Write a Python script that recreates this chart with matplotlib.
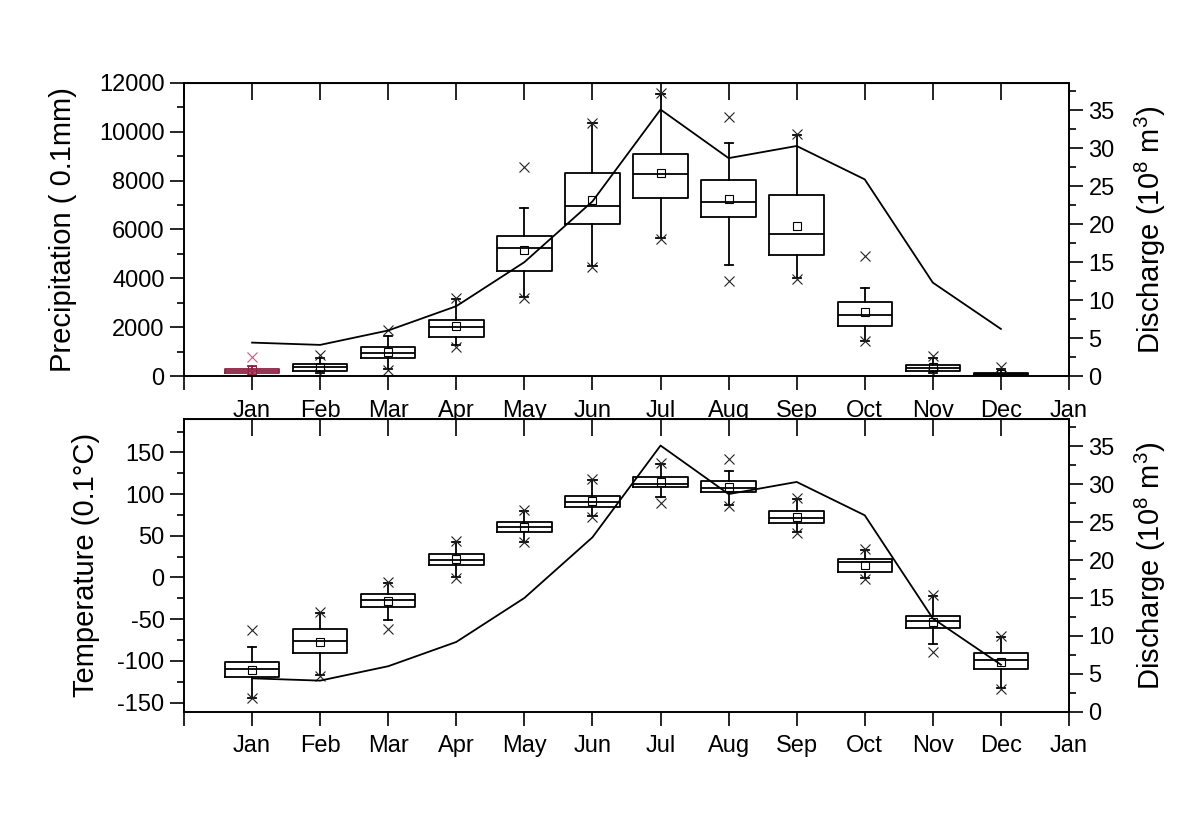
import matplotlib
matplotlib.use('Agg')
import matplotlib.pyplot as plt
from matplotlib.ticker import MultipleLocator

plt.rcParams['font.family'] = ['Liberation Sans', 'DejaVu Sans']
plt.rcParams['mathtext.fontset'] = 'custom'
plt.rcParams['mathtext.rm'] = 'Liberation Sans'
plt.rcParams['mathtext.it'] = 'Liberation Sans:italic'
plt.rcParams['axes.unicode_minus'] = False

months = ['Jan', 'Feb', 'Mar', 'Apr', 'May', 'Jun', 'Jul', 'Aug', 'Sep', 'Oct', 'Nov', 'Dec', 'Jan']

# monthly discharge (10^8 m^3)
discharge = [4.4, 4.1, 6.0, 9.2, 15.0, 23.0, 35.1, 28.7, 30.3, 25.9, 12.3, 6.2]

# precipitation (0.1mm): 1%, whisker low, q1, median, q3, whisker high, 99%, mean
prec_p1 = [40, 80, 250, 1200, 3200, 4480, 5610, 3900, 3960, 1430, 90, 10]
prec_wlo = [50, 110, 300, 1250, 3250, 4500, 5650, 4530, 4000, 1450, 110, 20]
prec_q1 = [110, 220, 750, 1610, 4300, 6220, 7300, 6510, 4970, 2035, 205, 40]
prec_med = [190, 350, 960, 2000, 5230, 6950, 8260, 7140, 5830, 2490, 320, 90]
prec_q3 = [270, 480, 1200, 2300, 5750, 8300, 9100, 8010, 7400, 3040, 437, 140]
prec_whi = [430, 720, 1650, 3150, 6870, 10350, 11550, 9560, 9880, 3600, 720, 300]
prec_p99 = [770, 850, 1880, 3180, 8550, 10370, 11600, 10620, 9910, 4930, 830, 380]
prec_mean = [250, 380, 1000, 2050, 5150, 7200, 8300, 7250, 6150, 2610, 355, 100]

# temperature (0.1 C)
temp_p1 = [-145, -118, -62, -1, 42, 73, 89, 86, 53, -2, -89, -134]
temp_wlo = [-144, -117, -51, 0, 43, 74, 97, 87, 54, -1, -80, -133]
temp_q1 = [-119, -91, -35, 15, 54, 85, 108, 102, 65, 7, -61, -110]
temp_med = [-110, -76, -27.5, 21, 61, 90, 112, 107, 71.5, 18, -52, -99.5]
temp_q3 = [-101, -62, -20, 28, 66, 98, 120, 115.5, 80, 22, -46, -90]
temp_whi = [-83, -43, -7, 42, 80, 117, 136, 128, 94, 33, -22, -71]
temp_p99 = [-63, -42, -6, 43.5, 81, 117.5, 137, 141.5, 95, 34, -21, -70]
temp_mean = [-111, -77, -28, 22, 61, 92, 115, 108.5, 73, 15.5, -54, -101]


def make_stats(p1, wlo, q1, med, q3, whi, p99, mean):
    stats = []
    for i in range(len(med)):
        stats.append(dict(whislo=wlo[i], q1=q1[i], med=med[i], q3=q3[i],
                          whishi=whi[i], mean=mean[i], fliers=[p1[i], p99[i]]))
    return stats


def draw_panel(ax, stats, discharge, ylim, major, minor, ylabel, label_x):
    lw = 1.3
    art = ax.bxp(stats, positions=range(1, 13), widths=0.8, capwidths=0.12,
                 showmeans=True, showfliers=True,
                 boxprops=dict(color='k', lw=lw),
                 whiskerprops=dict(color='k', lw=lw),
                 capprops=dict(color='k', lw=lw),
                 medianprops=dict(color='k', lw=lw),
                 meanprops=dict(marker='s', mfc='none', mec='k', ms=6, mew=0.8),
                 flierprops=dict(marker='x', mec='#222222', ms=7, mew=0.8))
    ax.set_xlim(0, 13)
    ax.set_xticks(range(0, 14))
    ax.set_xticklabels([''] + months)
    ax.set_ylim(*ylim)
    ax.yaxis.set_major_locator(MultipleLocator(major))
    ax.yaxis.set_minor_locator(MultipleLocator(minor))
    ax.tick_params(axis='both', which='major', direction='out', length=10, width=1.2,
                   labelsize=17)
    ax.tick_params(axis='x', pad=7)
    ax.tick_params(axis='y', pad=4)
    ax.tick_params(axis='y', which='minor', direction='out', length=5, width=1.2)
    ax.set_ylabel(ylabel, fontsize=21)
    ax.yaxis.set_label_coords(label_x, 0.5)
    for s in ax.spines.values():
        s.set_linewidth(1.2)

    top = ax.secondary_xaxis('top')
    top.set_xticks(range(0, 14))
    top.set_xticklabels([])
    top.tick_params(direction='in', length=12, width=1.2)

    ax2 = ax.twinx()
    ax2.plot(range(1, 13), discharge, color='k', lw=1.3)
    ax2.set_ylim(0, 38.6)
    ax2.yaxis.set_major_locator(MultipleLocator(5))
    ax2.yaxis.set_minor_locator(MultipleLocator(2.5))
    ax2.tick_params(axis='y', which='major', direction='out', length=10, width=1.2,
                    labelsize=17, pad=4)
    ax2.tick_params(axis='y', which='minor', direction='out', length=5, width=1.2)
    ax2.set_ylabel('Discharge (10$^{8}$ m$^{3}$)', fontsize=21)
    ax2.yaxis.set_label_coords(1.072, 0.5)
    for s in ax2.spines.values():
        s.set_linewidth(1.2)
    return art


fig = plt.figure(figsize=(11.98, 8.33), dpi=100)
ax1 = fig.add_axes([0.1536, 0.5486, 0.7387, 0.3518])
ax3 = fig.add_axes([0.1536, 0.1456, 0.7387, 0.3514])

prec_stats = make_stats(prec_p1, prec_wlo, prec_q1, prec_med, prec_q3, prec_whi, prec_p99, prec_mean)
temp_stats = make_stats(temp_p1, temp_wlo, temp_q1, temp_med, temp_q3, temp_whi, temp_p99, temp_mean)

art = draw_panel(ax1, prec_stats, discharge, (0, 12000), 2000, 1000,
                 'Precipitation ( 0.1mm)', -0.121)
# January box in the top panel is drawn in dark red
red = '#8e2043'
art['boxes'][0].set_color(red)
art['medians'][0].set_color(red)
for a in art['whiskers'][0:2] + art['caps'][0:2]:
    a.set_color(red)
art['means'][0].set_markeredgecolor(red)
art['fliers'][0].set_markeredgecolor('#c06080')

draw_panel(ax3, temp_stats, discharge, (-161, 190), 50, 25,
           'Temperature (0.1°C)', -0.095)

fig.savefig('out.png', dpi=100)
